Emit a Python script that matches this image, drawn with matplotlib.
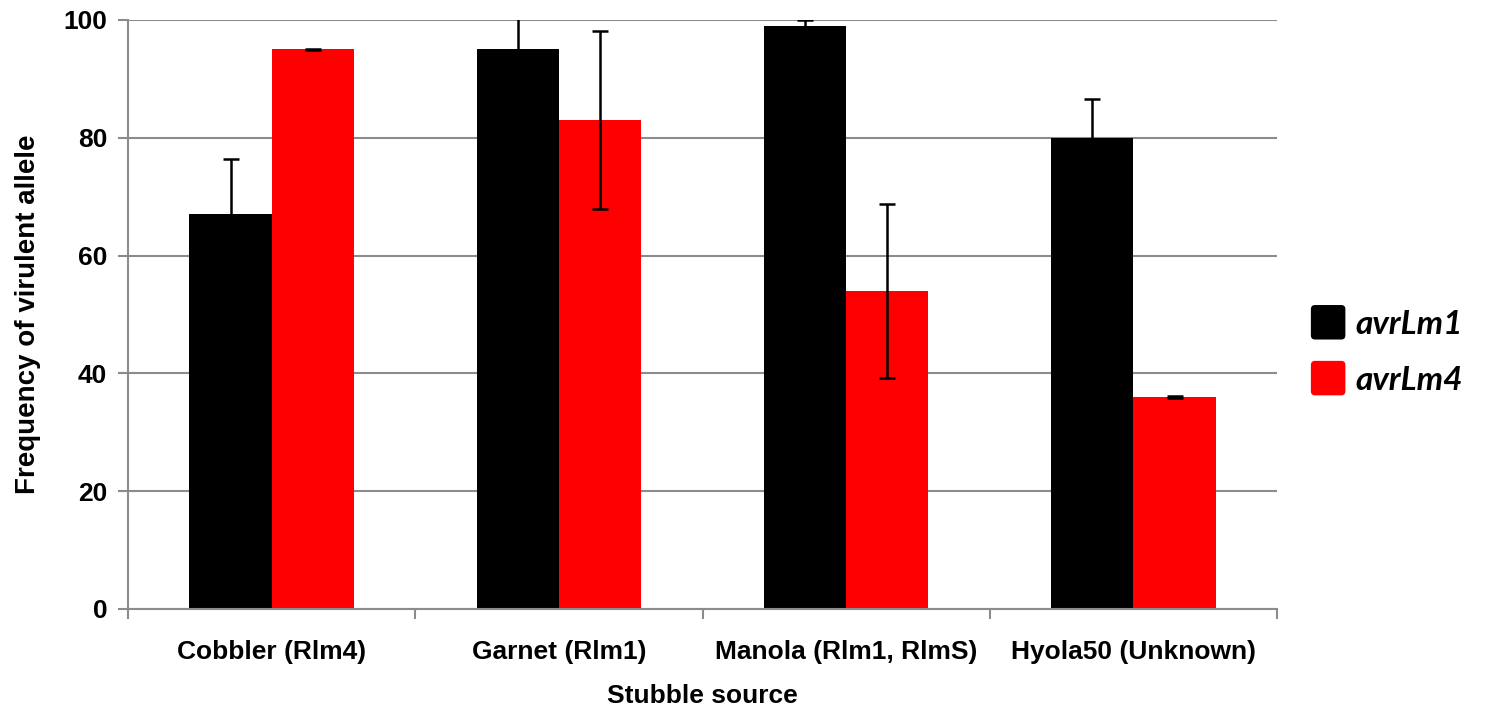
import numpy as np
import matplotlib.pyplot as plt
from matplotlib.patches import FancyBboxPatch
from matplotlib.legend_handler import HandlerPatch

categories = ["Cobbler (Rlm4)", "Garnet (Rlm1)", "Manola (Rlm1, RlmS)", "Hyola50 (Unknown)"]
avrlm1 = [67, 95, 99, 80]
avrlm1_err = [9.4, 6.5, 1.0, 6.6]
avrlm4 = [95, 83, 54, 36]
avrlm4_err = [0.1, 15.1, 14.8, 0.1]

plt.rcParams['font.family'] = ['Liberation Sans', 'DejaVu Sans']

fig = plt.figure(figsize=(14.85, 7.11), dpi=100)
ax = fig.add_axes([0.0862, 0.1435, 0.7738, 0.8284])

x = np.arange(len(categories))
w = 0.286
ekw = dict(ecolor='black', elinewidth=1.8, capsize=6, capthick=1.8)
b1 = ax.bar(x - w / 2, avrlm1, w, color='black', yerr=avrlm1_err, error_kw=ekw, label='avrLm1', zorder=2)
b2 = ax.bar(x + w / 2, avrlm4, w, color='#ff0000', yerr=avrlm4_err, error_kw=ekw, label='avrLm4', zorder=2)

ax.set_xlim(-0.5, len(categories) - 0.5)
ax.set_ylim(0, 100)
ax.set_yticks(range(0, 101, 20))
ax.yaxis.grid(True, color='#8c8c8c', linewidth=1.5, zorder=0)
ax.set_axisbelow(True)

# category labels in the middle, tick marks at the boundaries
ax.set_xticks(np.arange(-0.5, len(categories)), minor=False)
ax.set_xticklabels([])
ax.set_xticks(x, minor=True)
ax.set_xticklabels(categories, minor=True, fontsize=19, fontweight='bold')
ax.tick_params(axis='x', which='minor', length=0, pad=22)
ax.tick_params(axis='x', which='major', length=7, width=1.5, color='#8c8c8c', direction='out')
ax.tick_params(axis='y', length=7, width=1.5, color='#8c8c8c', direction='out', labelsize=19, pad=8)
for lbl in ax.get_yticklabels():
    lbl.set_fontweight('bold')

for s in ['top', 'right']:
    ax.spines[s].set_visible(False)
for s in ['left', 'bottom']:
    ax.spines[s].set_color('#8c8c8c')
    ax.spines[s].set_linewidth(1.5)

ax.set_xlabel("Stubble source", fontsize=19, fontweight='bold', labelpad=15)
ax.set_ylabel("Frequency of virulent allele", fontsize=20, fontweight='bold', labelpad=16)


class RoundBox(HandlerPatch):
    def create_artists(self, legend, orig_handle, xdescent, ydescent, width, height, fontsize, trans):
        s = min(width, height) * 1.2
        p = FancyBboxPatch((-xdescent + (width - s) / 2, -ydescent + (height - s) / 2), s, s,
                           boxstyle="round,pad=0,rounding_size=%f" % (s * 0.12),
                           facecolor=orig_handle.get_facecolor(), edgecolor='none', transform=trans)
        return [p]


leg = fig.legend(handles=[b1.patches[0], b2.patches[0]], labels=['avrLm1', 'avrLm4'],
                 loc='center left', bbox_to_anchor=(0.8635, 0.506), frameon=False,
                 prop={'family': 'Lato', 'style': 'italic', 'weight': 'bold', 'size': 24},
                 handler_map={b1.patches[0]: RoundBox(), b2.patches[0]: RoundBox()},
                 handlelength=0.95, handleheight=0.95, handletextpad=0.35, labelspacing=0.75)

fig.savefig("out.png", dpi=100)
